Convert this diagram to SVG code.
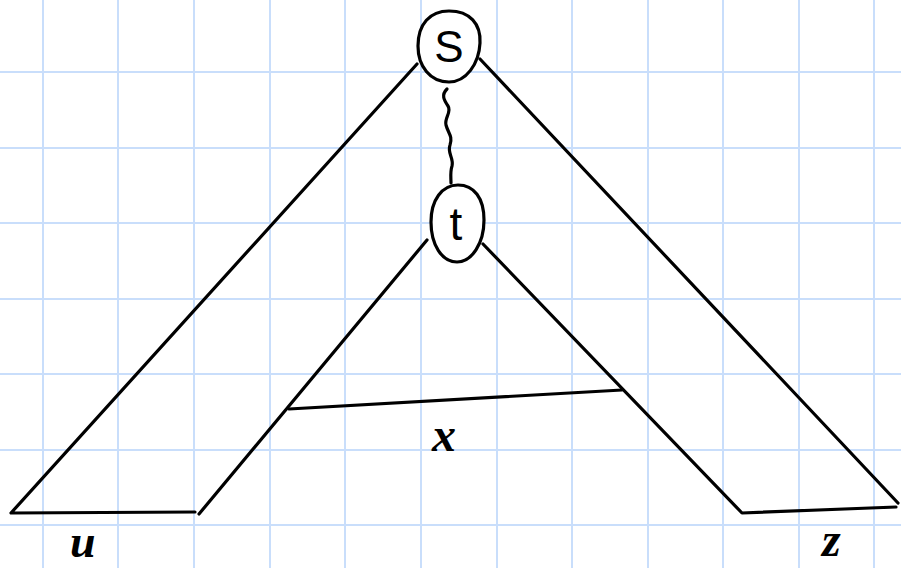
<svg xmlns="http://www.w3.org/2000/svg" width="901" height="568" viewBox="0 0 901 568">
<style>
.grid line{stroke:#c9defb;stroke-width:2}
.ln{stroke:#000;stroke-width:3.2;fill:none;stroke-linecap:round;stroke-linejoin:round}
.node ellipse,.node path{stroke:#000;stroke-width:3.2;fill:#fff}
.lbl{font-family:"Liberation Serif",serif;font-style:italic;font-weight:bold;fill:#000}
.nt{font-family:"Liberation Sans",sans-serif;fill:#000;text-anchor:middle}
</style>
<rect width="901" height="568" fill="#fff"/>
<g class="grid">
<line x1="43" y1="0" x2="43" y2="568"/><line x1="118" y1="0" x2="118" y2="568"/><line x1="194" y1="0" x2="194" y2="568"/><line x1="270" y1="0" x2="270" y2="568"/><line x1="345" y1="0" x2="345" y2="568"/><line x1="421" y1="0" x2="421" y2="568"/><line x1="497" y1="0" x2="497" y2="568"/><line x1="572" y1="0" x2="572" y2="568"/><line x1="648" y1="0" x2="648" y2="568"/><line x1="723" y1="0" x2="723" y2="568"/><line x1="799" y1="0" x2="799" y2="568"/><line x1="874" y1="0" x2="874" y2="568"/>
<line x1="0" y1="72" x2="901" y2="72"/><line x1="0" y1="148" x2="901" y2="148"/><line x1="0" y1="223" x2="901" y2="223"/><line x1="0" y1="299" x2="901" y2="299"/><line x1="0" y1="374" x2="901" y2="374"/><line x1="0" y1="450" x2="901" y2="450"/><line x1="0" y1="525" x2="901" y2="525"/>
</g>
<g id="connectors">
<path class="ln" d="M417,64 L11,513 L195,512"/>
<path class="ln" d="M199,514 L427,240"/>
<path class="ln" d="M483,244 L742,513 L896,507"/>
<path class="ln" d="M480,59 L898,503"/>
<path class="ln" d="M289,409 L622,390"/>
<path class="ln" d="M447,89 C441,95 444,100 448,106 C452,112 444,118 446,125 C448,133 453,136 450,145 C447,153 454,158 452,166 C450,172 451,178 451,183"/>
</g>
<g id="node-s" class="node">
<path d="M449,11 C470,11 481,24 480,43 C479,64 466,82 449,82 C430,82 418,66 418,46 C418,24 430,11 449,11 Z"/>
<text class="nt" x="449" y="62" font-size="44">S</text>
</g>
<g id="node-t" class="node">
<path d="M458,185 C474,185 484,198 484,220 C484,243 472,262 457,262 C442,262 431,245 431,222 C431,200 442,185 458,185 Z"/>
<text class="nt" x="456" y="240" font-size="46">t</text>
</g>
<g id="labels">
<text class="lbl" x="70" y="557" font-size="46">u</text>
<text class="lbl" x="432" y="451" font-size="48">x</text>
<text class="lbl" x="822" y="556" font-size="48">z</text>
</g>
</svg>
